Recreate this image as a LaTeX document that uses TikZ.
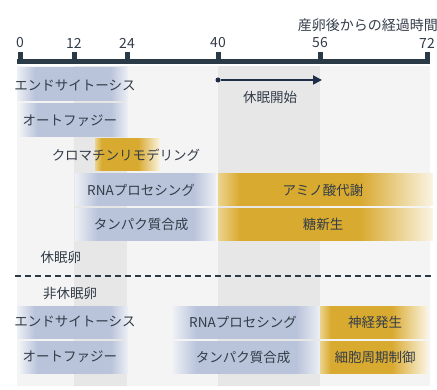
\documentclass[tikz,border=0pt]{standalone}
\usepackage{fontspec}
\setmainfont{Noto Sans CJK JP}
\usetikzlibrary{arrows.meta}
\definecolor{axisc}{HTML}{2B3A47}
\definecolor{txt}{HTML}{333D49}
\definecolor{navy}{HTML}{1F2D4A}
\definecolor{bgA}{HTML}{F4F4F4}
\definecolor{bgB}{HTML}{E7E7E7}
\definecolor{blueM}{HTML}{B9C3DA}
\definecolor{blueE}{HTML}{EDF0F5}
\definecolor{goldM}{HTML}{D9AA30}
\definecolor{goldE}{HTML}{ECD48E}
\definecolor{goldF}{HTML}{FAF4E4}
\pgfdeclarehorizontalshading{bluebar}{100bp}{color(0bp)=(blueE); color(25bp)=(blueE); color(33bp)=(blueM); color(67bp)=(blueM); color(75bp)=(blueE); color(100bp)=(blueE)}
\pgfdeclarehorizontalshading{goldbar}{100bp}{color(0bp)=(goldE); color(25bp)=(goldE); color(30bp)=(goldM); color(58bp)=(goldM); color(75bp)=(goldF); color(100bp)=(goldF)}
\tikzset{
  lbl/.style={text=txt, font=\fontsize{13.5}{15}\selectfont, inner sep=0pt},
  bbar/.style={shade, shading=bluebar, inner sep=0pt, draw=none},
  gbar/.style={shade, shading=goldbar, inner sep=0pt, draw=none},
  axisline/.style={draw=axisc, line width=5pt},
  tickmark/.style={draw=axisc, line width=5pt},
}
\begin{document}
\begin{tikzpicture}[x=1pt,y=-1pt]
\useasboundingbox (0,0) rectangle (437,390);
% background stripes
\fill[bgA] (17,66) rectangle (430,386);
\fill[bgB] (74,66) rectangle (127,386);
\fill[bgB] (218,66) rectangle (320,386);
% axis
\coordinate (a0) at (17,62);
\coordinate (a1) at (429.5,62);
\draw[axisline] (a0) -- (a1);
\foreach \n/\x/\v in {t0/20/0, t12/74/12, t24/127/24, t40/218/40, t56/320/56, t72/427/72}{
  \coordinate (\n) at (\x,62);
  \draw[tickmark] (\n) -- ++(0,-10);
  \node[lbl, font=\fontsize{14}{16}\selectfont] (l\n) at (\x,43) {\v};
}
\node[lbl, anchor=east, font=\fontsize{14}{16}\selectfont] (title) at (438,25) {産卵後からの経過時間};
% dormant onset arrow
\node[circle, fill=navy, inner sep=0pt, minimum size=5pt] (s) at (218,80) {};
\coordinate (e) at (322,80);
\draw[navy, line width=1.8pt, -{Triangle[length=9pt,width=9pt]}] (s) -- (e);
\node[lbl] (dorm) at (270,97) {休眠開始};
% bars: diapause eggs
\node[bbar, minimum width=111pt, minimum height=33pt] (b1) at (72.5,84.5) {};
\node[bbar, minimum width=108pt, minimum height=33pt] (b2) at (74,120.5) {};
\node[gbar, minimum width=65pt, minimum height=32pt] (g3) at (127.5,155) {};
\node[bbar, minimum width=141pt, minimum height=32pt] (b4) at (145.5,190) {};
\node[bbar, minimum width=141pt, minimum height=32pt] (b5) at (145.5,225) {};
\node[gbar, minimum width=215pt, minimum height=32pt] (g4) at (325.5,190) {};
\node[gbar, minimum width=215pt, minimum height=32pt] (g5) at (325.5,225) {};
% bars: non-diapause eggs
\node[bbar, minimum width=111pt, minimum height=32pt] (b8) at (72.5,323) {};
\node[bbar, minimum width=108pt, minimum height=32pt] (b9) at (74,358) {};
\node[bbar, minimum width=147pt, minimum height=32pt] (m8) at (246.5,323) {};
\node[bbar, minimum width=147pt, minimum height=32pt] (m9) at (246.5,358) {};
\node[gbar, minimum width=108pt, minimum height=32pt] (n8) at (374,323) {};
\node[gbar, minimum width=108pt, minimum height=32pt] (n9) at (374,358) {};
% labels
\node[lbl] (x1) at (75,86) {エンドサイトーシス};
\node[lbl] (x2) at (70,121) {オートファジー};
\node[lbl] (x3) at (126,155) {クロマチンリモデリング};
\node[lbl] (x4) at (141,190) {RNAプロセシング};
\node[lbl] (x5) at (141,224) {タンパク質合成};
\node[lbl] (x6) at (323,190) {アミノ酸代謝};
\node[lbl] (x7) at (323,224) {糖新生};
\node[lbl] (x8) at (61,257) {休眠卵};
% dashed separator
\coordinate (d0) at (15,276);
\coordinate (d1) at (432,276);
\draw[axisc, line width=1.5pt, dash pattern=on 6pt off 4pt] (d0) -- (d1);
\node[lbl] (x9) at (70,293) {非休眠卵};
\node[lbl] (x10) at (75,322) {エンドサイトーシス};
\node[lbl] (x11) at (70,357) {オートファジー};
\node[lbl] (x12) at (243,322) {RNAプロセシング};
\node[lbl] (x13) at (243,357) {タンパク質合成};
\node[lbl] (x14) at (375,322) {神経発生};
\node[lbl] (x15) at (375,357) {細胞周期制御};
\end{tikzpicture}
\end{document}
